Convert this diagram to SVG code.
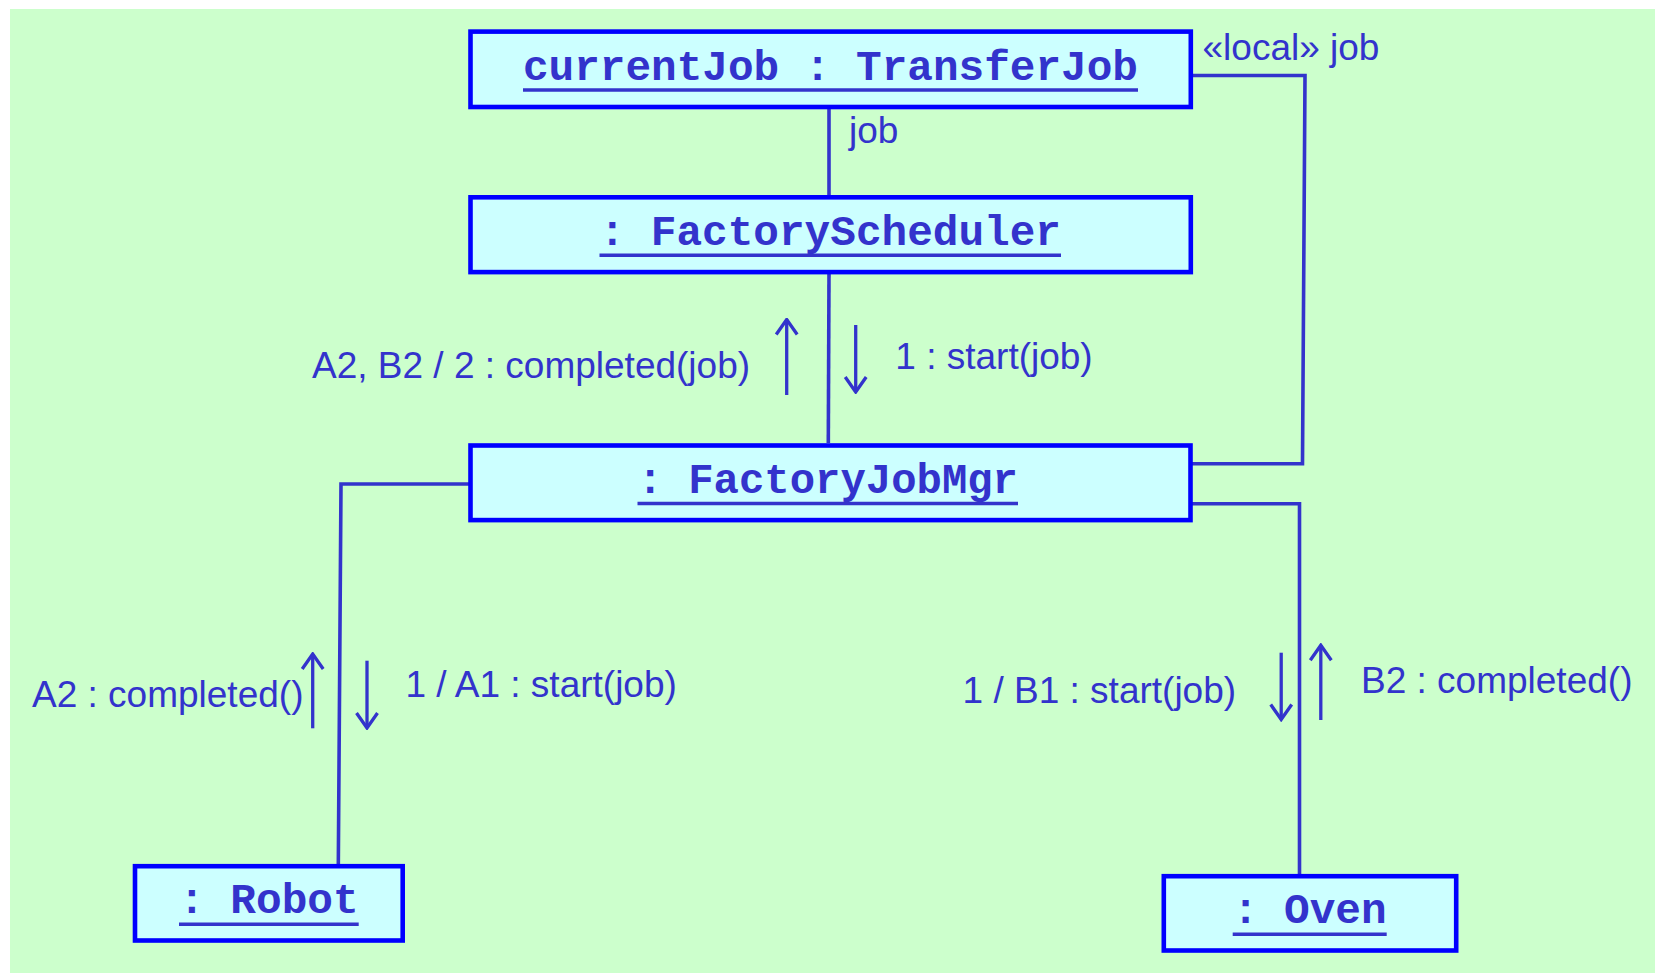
<svg xmlns="http://www.w3.org/2000/svg" width="1655" height="974" viewBox="0 0 1655 974">
<style>
.box{fill:#CCFFFF;stroke:#0000FF;stroke-width:4.6}
.name{font-family:"Liberation Mono","Courier New",monospace;font-weight:bold;font-size:42.75px;fill:#3333CC}
.ul{stroke:#3333CC;stroke-width:3.5}
.conn{fill:none;stroke:#3333CC;stroke-width:3.6;stroke-linejoin:miter}
.msg{fill:none;stroke:#3333CC;stroke-width:3.3}
.lbl{font-family:"Liberation Sans",Arial,sans-serif;font-size:37px;fill:#3333CC}
</style>
<defs>
<marker id="open" viewBox="-18 -13 20 26" refX="0" refY="0" markerWidth="20" markerHeight="26" markerUnits="userSpaceOnUse" orient="auto">
<path d="M-15,-10.5 L0,0 L-15,10.5" fill="none" stroke="#3333CC" stroke-width="3.3"/>
</marker>
</defs>
<rect x="0" y="0" width="1655" height="974" fill="#FFFFFF"/>
<rect x="10" y="9" width="1645" height="964" fill="#CCFFCC"/>

<g id="connectors">
<path class="conn" d="M829,109 V195"/>
<path class="conn" d="M829,274 L828.3,443"/>
<path class="conn" d="M1192,75.5 H1305 L1302.5,463.7 H1190"/>
<path class="conn" d="M1190,503.8 H1299.5 V876"/>
<path class="conn" d="M470,484 H341 L338.3,866"/>
<text class="lbl" x="1202.5" y="60">«local» job</text>
<text class="lbl" x="849" y="143.3">job</text>
</g>

<g id="messages">
<path class="msg" d="M786.7,395 V319.5" marker-end="url(#open)"/>
<path class="msg" d="M855.7,325 V392" marker-end="url(#open)"/>
<path class="msg" d="M312.7,728.3 V654" marker-end="url(#open)"/>
<path class="msg" d="M367,660.7 V728" marker-end="url(#open)"/>
<path class="msg" d="M1281.2,652.7 V719.5" marker-end="url(#open)"/>
<path class="msg" d="M1320.8,720 V645.2" marker-end="url(#open)"/>
<text class="lbl" x="312" y="378.3">A2, B2 / 2 : completed(job)</text>
<text class="lbl" x="895.3" y="369.3">1 : start(job)</text>
<text class="lbl" x="32" y="706.7">A2 : completed()</text>
<text class="lbl" x="405.4" y="696.7">1 / A1 : start(job)</text>
<text class="lbl" x="962.6" y="702.7">1 / B1 : start(job)</text>
<text class="lbl" x="1361" y="692.7">B2 : completed()</text>
</g>

<g id="currentJob">
<rect class="box" x="470.5" y="31.6" width="720.3" height="75.4"/>
<text class="name" x="523" y="80" textLength="615" lengthAdjust="spacingAndGlyphs">currentJob : TransferJob</text>
<line class="ul" x1="523" y1="90" x2="1138" y2="90"/>
</g>

<g id="factoryScheduler">
<rect class="box" x="470.5" y="197.3" width="720.3" height="74.8"/>
<text class="name" x="599.5" y="245" textLength="461.5" lengthAdjust="spacingAndGlyphs">: FactoryScheduler</text>
<line class="ul" x1="599.5" y1="255.3" x2="1061" y2="255.3"/>
</g>

<g id="factoryJobMgr">
<rect class="box" x="470.5" y="445.5" width="720" height="74.6"/>
<text class="name" x="637.5" y="493.3" textLength="380.5" lengthAdjust="spacingAndGlyphs">: FactoryJobMgr</text>
<line class="ul" x1="637.5" y1="503.5" x2="1018" y2="503.5"/>
</g>

<g id="robot">
<rect class="box" x="135" y="866.2" width="267.7" height="74.3"/>
<text class="name" x="179" y="913.3" textLength="179.7" lengthAdjust="spacingAndGlyphs">: Robot</text>
<line class="ul" x1="179" y1="924.3" x2="358.7" y2="924.3"/>
</g>

<g id="oven">
<rect class="box" x="1163.8" y="876.2" width="292.4" height="74.3"/>
<text class="name" x="1232.7" y="923.3" textLength="154" lengthAdjust="spacingAndGlyphs">: Oven</text>
<line class="ul" x1="1232.7" y1="934.3" x2="1386.7" y2="934.3"/>
</g>
</svg>
